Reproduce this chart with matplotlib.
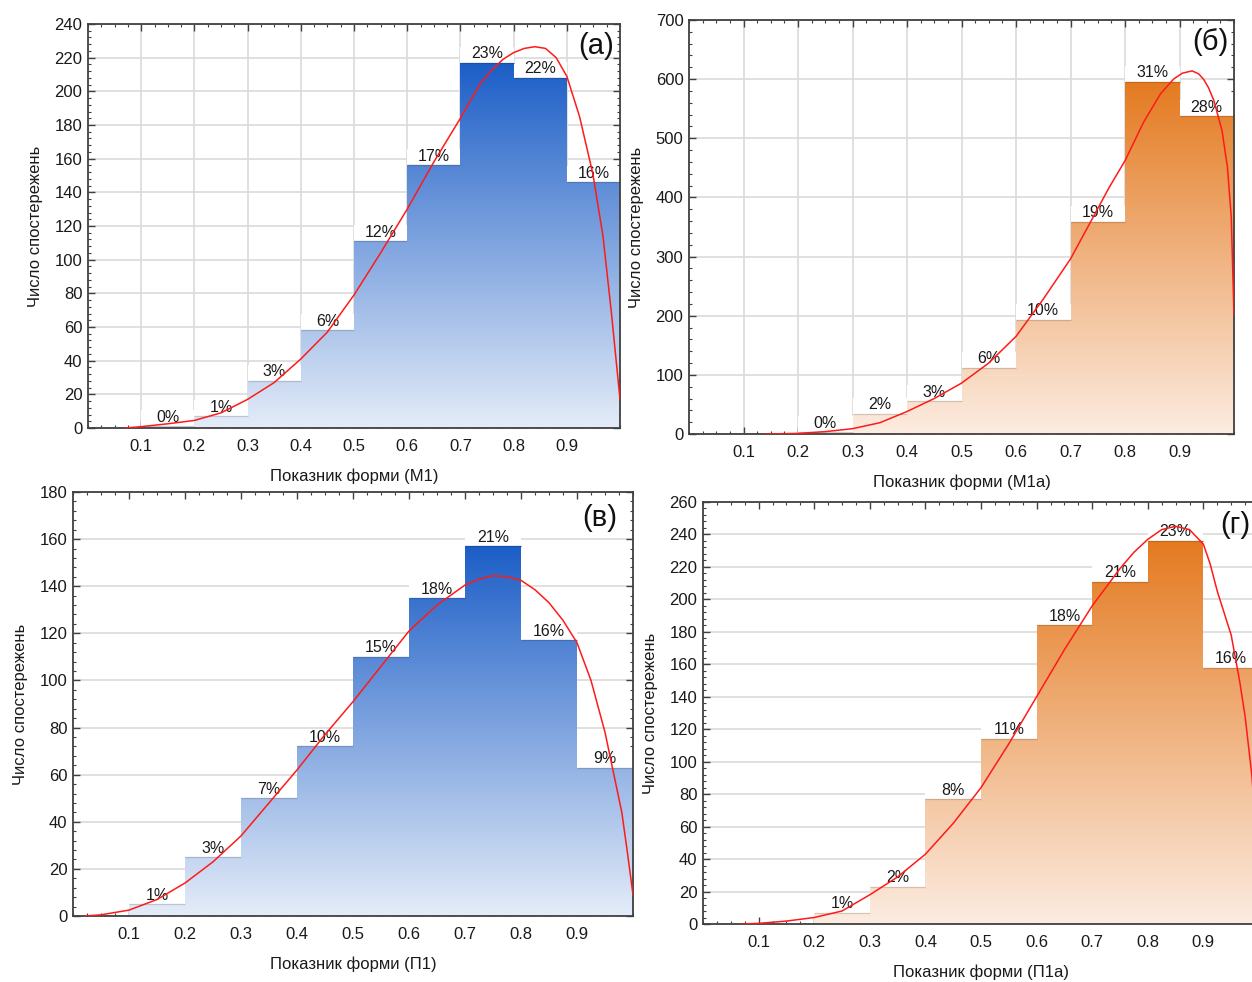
import matplotlib
matplotlib.use('Agg')
import numpy as np
import matplotlib.pyplot as plt
from matplotlib.path import Path
from matplotlib.patches import PathPatch, Rectangle
from matplotlib.colors import to_rgb
from matplotlib.ticker import MultipleLocator, AutoMinorLocator

plt.rcParams['font.family'] = ['Liberation Sans', 'DejaVu Sans']

# ---------------- data ----------------
bin_edges = [0.0, 0.1, 0.2, 0.3, 0.4, 0.5, 0.6, 0.7, 0.8, 0.9, 1.0]
x_ticks = [0.1, 0.2, 0.3, 0.4, 0.5, 0.6, 0.7, 0.8, 0.9]
x_tick_labels = ['0.1', '0.2', '0.3', '0.4', '0.5', '0.6', '0.7', '0.8', '0.9']

a_counts = [0, 1, 7, 28, 58, 111, 156, 217, 208, 146]
a_pct = [None, '0%', '1%', '3%', '6%', '12%', '17%', '23%', '22%', '16%']
a_curve_x = [0.07, 0.1, 0.15, 0.2, 0.25, 0.3, 0.35, 0.4, 0.45, 0.5, 0.55, 0.6,
             0.65, 0.7, 0.736, 0.76, 0.78, 0.8, 0.82, 0.84, 0.86, 0.88, 0.9,
             0.924, 0.949, 0.968, 0.984, 1.0]
a_curve_y = [0, 0.8, 2.5, 4.5, 9, 17, 27, 41, 57, 79, 104, 130,
             158, 184, 204, 213, 219, 223, 225.5, 226.5, 225.5, 220, 209,
             185, 151, 114, 68, 17]

b_counts = [0, 0, 3, 34, 55, 112, 193, 359, 596, 537]
b_pct = [None, None, '0%', '2%', '3%', '6%', '10%', '19%', '31%', '28%']
b_curve_x = [0.14, 0.2, 0.25, 0.3, 0.35, 0.4, 0.45, 0.5, 0.55, 0.6, 0.65, 0.7,
             0.74, 0.771, 0.8, 0.834, 0.865, 0.889, 0.905, 0.923, 0.935,
             0.944, 0.953, 0.963, 0.978, 0.988, 0.995, 1.0]
b_curve_y = [0, 1, 4, 9, 19, 38, 60, 86, 120, 165, 228, 296,
             364, 417, 462, 527, 575, 600, 610, 614, 609,
             600, 586, 564, 513, 451, 366, 200]

v_counts = [0, 5, 25, 50, 72, 110, 135, 157, 117, 63]
v_pct = [None, '1%', '3%', '7%', '10%', '15%', '18%', '21%', '16%', '9%']
v_curve_x = [0.02, 0.05, 0.1, 0.15, 0.2, 0.25, 0.3, 0.35, 0.4, 0.45, 0.5, 0.55,
             0.6, 0.65, 0.7, 0.725, 0.75, 0.775, 0.8, 0.825, 0.85, 0.875,
             0.9, 0.925, 0.95, 0.965, 0.98, 0.99, 1.0]
v_curve_y = [0, 0.5, 2.5, 7, 14, 23, 34, 48, 62, 77, 91, 106,
             121, 132, 140.5, 143, 144.5, 144, 142.5, 138.5, 133, 125.5,
             116, 100, 78, 61, 44, 27, 9]

g_counts = [0, 0, 7, 23, 77, 114, 184, 211, 236, 158]
g_pct = [None, None, '1%', '2%', '8%', '11%', '18%', '21%', '23%', '16%']
g_curve_x = [0.07, 0.1, 0.15, 0.2, 0.25, 0.3, 0.35, 0.4, 0.45, 0.5, 0.55, 0.6,
             0.65, 0.7, 0.75, 0.775, 0.8, 0.825, 0.85, 0.875, 0.9, 0.912,
             0.925, 0.95, 0.965, 0.975, 0.987, 1.0]
g_curve_y = [0, 0.4, 1.8, 4, 8, 18, 29, 43, 62, 84, 111, 140,
             169, 196, 219, 229, 237, 243, 245, 243, 234, 222,
             205, 178, 150, 128, 92, 35]

y_label = 'Число спостережень'

# ---------------- figure ----------------
W, H = 1252, 982
fig = plt.figure(figsize=(W / 100, H / 100), dpi=100)
fig.patch.set_facecolor('white')

BLUE_DARK, BLUE_LIGHT = '#1c5ec7', '#e4ecf8'
ORANGE_DARK, ORANGE_LIGHT = '#e47a20', '#fcece1'


def panel(rect, counts, pcts, cx, cy, ymax, ystep, light, dark, xlabel, tag,
          tagpos, vgrid):
    ax = fig.add_axes(rect)
    ax.set_xlim(0, 1)
    ax.set_ylim(0, ymax)
    ax.set_axisbelow(True)
    ax.yaxis.grid(True, color='#dadada', lw=1.2, zorder=0)
    if vgrid:
        ax.xaxis.grid(True, color='#dadada', lw=1.2, zorder=0)

    lo = np.array(to_rgb(light))
    hi = np.array(to_rgb(dark))
    top = max(counts)
    t = np.linspace(0, 1, 256)[:, None]
    grad = lo[None, :] * (1 - t) + hi[None, :] * t
    grad = grad[:, None, :]

    # step outline of bars
    verts = [(bin_edges[0], 0)]
    for i, c in enumerate(counts):
        verts.append((bin_edges[i], c))
        verts.append((bin_edges[i + 1], c))
    verts.append((bin_edges[-1], 0))
    verts.append((bin_edges[0], 0))
    path = Path(verts, closed=True)
    clip = PathPatch(path, transform=ax.transData, facecolor='none',
                     edgecolor='none')
    ax.add_patch(clip)
    im = ax.imshow(grad, extent=[0, 1, 0, top], origin='lower', aspect='auto',
                   zorder=2, interpolation='bilinear')
    im.set_clip_path(clip)

    # pixel -> data height for label boxes
    px_per_unit = rect[3] * H / ymax
    box_h = 16 / px_per_unit
    for i, (c, p) in enumerate(zip(counts, pcts)):
        if p is None:
            continue
        l, r = bin_edges[i], bin_edges[i + 1]
        ax.add_patch(Rectangle((l, c), r - l, box_h, facecolor='white',
                               edgecolor='none', zorder=1))
        col = lo + (hi - lo) * (c / top)
        ax.plot([l, r], [c, c], color=col * 0.85, lw=0.9, zorder=2.5,
                solid_capstyle='butt')
        ax.text((l + r) / 2, c + 1.5 / px_per_unit, p, ha='center',
                va='bottom', fontsize=11.5, color='#1a1a1a', zorder=3)

    ax.plot(cx, cy, color='#ff1a1a', lw=1.1, zorder=4, clip_on=True,
            solid_joinstyle='round')

    ax.set_xticks(x_ticks)
    ax.set_xticklabels(x_tick_labels)
    ax.yaxis.set_major_locator(MultipleLocator(ystep))
    ax.xaxis.set_minor_locator(AutoMinorLocator(4))
    ax.yaxis.set_minor_locator(AutoMinorLocator(5))
    ax.tick_params(which='both', direction='in', top=True, right=True,
                   color='#404040', labelsize=12, labelcolor='#1a1a1a')
    ax.tick_params(which='major', length=5, width=1)
    ax.tick_params(which='minor', length=2.5, width=0.8)
    ax.tick_params(axis='x', which='major', pad=8)
    ax.tick_params(axis='y', which='major', pad=4)
    for s in ax.spines.values():
        s.set_color('#404040')
        s.set_linewidth(1.3)
    ax.set_xlabel(xlabel, fontsize=12, labelpad=10, color='#1a1a1a')
    ax.set_ylabel(y_label, fontsize=12, labelpad=8, color='#1a1a1a')
    ax.text(tagpos[0], tagpos[1], tag, transform=ax.transAxes, ha='right',
            va='center', fontsize=21, color='#111111', zorder=5)
    return ax


panel([88 / W, 1 - 428 / H, 532 / W, 404 / H], a_counts, a_pct,
      a_curve_x, a_curve_y, 240, 20, BLUE_LIGHT, BLUE_DARK,
      'Показник форми (M1)', '(а)', (0.989, 0.945), True)
panel([689 / W, 1 - 434 / H, 545 / W, 414 / H], b_counts, b_pct,
      b_curve_x, b_curve_y, 700, 100, ORANGE_LIGHT, ORANGE_DARK,
      'Показник форми (M1a)', '(б)', (0.989, 0.947), True)
panel([73 / W, 1 - 916 / H, 560 / W, 424 / H], v_counts, v_pct,
      v_curve_x, v_curve_y, 180, 20, BLUE_LIGHT, BLUE_DARK,
      'Показник форми (П1)', '(в)', (0.971, 0.939), False)
panel([703 / W, 1 - 924 / H, 556 / W, 422 / H], g_counts, g_pct,
      g_curve_x, g_curve_y, 260, 20, ORANGE_LIGHT, ORANGE_DARK,
      'Показник форми (П1а)', '(г)', (0.984, 0.945), False)

fig.savefig('out.png', dpi=100, facecolor='white')
